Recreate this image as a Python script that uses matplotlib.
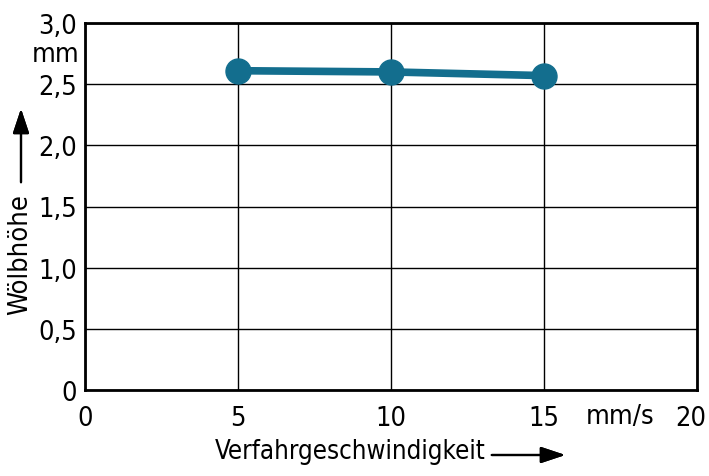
import matplotlib.pyplot as plt
from matplotlib import font_manager
from matplotlib.transforms import ScaledTranslation

# data
speed = [5, 10, 15]
height = [2.61, 2.60, 2.57]
x_ticks = [0, 5, 10, 15, 20]
y_ticks = [0, 0.5, 1.0, 1.5, 2.0, 2.5, 3.0]
y_labels = ['0', '0,5', '1,0', '1,5', '2,0', '2,5', '3,0']

# look for an upright condensed face, the reference uses a narrow sans
fonts = font_manager.fontManager.ttflist
cond = [f for f in fonts
        if (f.stretch in ('condensed', 'semi-condensed', 'extra-condensed')
            or 'Narrow' in f.name or 'Condensed' in f.name)
        and f.style == 'normal' and f.weight in ('normal', 400, 'regular', 'book')
        and 'Mono' not in f.name and 'Serif' not in f.name]
if cond:
    pick = cond[0]
    for pref in ('Liberation Sans Narrow', 'DejaVu Sans', 'Open Sans', 'Roboto', 'Noto Sans'):
        hit = [f for f in cond if f.name == pref]
        if hit:
            pick = hit[0]
            break
    fname = pick.fname
else:
    fname = None


def font(size):
    if fname:
        return font_manager.FontProperties(fname=fname, size=size)
    return font_manager.FontProperties(family='DejaVu Sans', size=size)


tick_fp = font(19.5)

fig = plt.figure(figsize=(7.09, 4.77), dpi=100)
ax = fig.add_axes([85 / 709, 1 - 391 / 477, (697 - 85) / 709, (391 - 24) / 477])

ax.plot(speed, height, color='#136e8e', lw=5.5, marker='o', ms=18,
        solid_capstyle='round', zorder=5, clip_on=False)

ax.set_xlim(0, 20)
ax.set_ylim(0, 3.0)
ax.set_xticks(x_ticks)
ax.set_xticklabels([str(v) for v in x_ticks], fontproperties=tick_fp)
ax.set_yticks(y_ticks)
ax.set_yticklabels(y_labels, fontproperties=tick_fp)
ax.tick_params(length=0)
ax.tick_params(axis='x', pad=11)
ax.tick_params(axis='y', pad=6)
ax.grid(True, color='black', lw=1)
for s in ax.spines.values():
    s.set_linewidth(2)
# the last x label sits tight against the right edge
last = ax.get_xticklabels()[-1]
last.set_transform(last.get_transform() + ScaledTranslation(-6 / 100, 0, fig.dpi_scale_trans))

# unit labels in the tick rows
ax.text(17.5, -26 / 367, 'mm/s', ha='center', va='center', fontproperties=tick_fp,
        transform=ax.get_xaxis_transform())
ax.text(-6 / 612, 2.75, 'mm', ha='right', va='center', fontproperties=tick_fp,
        transform=ax.get_yaxis_transform())

# axis titles with arrows
arrow = dict(arrowstyle='-|>,head_length=1.5,head_width=0.5', lw=1.6, color='black')
fig.text(215 / 709, 1 - 452 / 477, 'Verfahrgeschwindigkeit', ha='left', va='center',
         fontproperties=font(18.5))
fig.add_artist(plt.annotate('', xy=(568 / 709, 1 - 456 / 477), xytext=(489 / 709, 1 - 456 / 477),
                            xycoords='figure fraction', arrowprops=arrow))
fig.text(20 / 709, 1 - 255 / 477, 'Wölbhöhe', ha='center', va='center', rotation=90,
         fontproperties=font(19.5))
fig.add_artist(plt.annotate('', xy=(21 / 709, 1 - 107 / 477), xytext=(21 / 709, 1 - 186 / 477),
                            xycoords='figure fraction', arrowprops=arrow))

fig.savefig('out.png', dpi=100)
